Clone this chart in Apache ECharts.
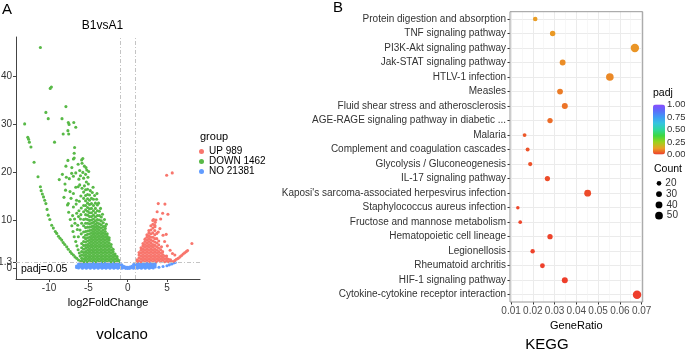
<!DOCTYPE html>
<html>
<head>
<meta charset="utf-8">
<script src="https://cdn.jsdelivr.net/npm/echarts@6/dist/echarts.min.js"></script>
<style>
  html, body { margin: 0; padding: 0; background: #fff; }
  #chart { width: 685px; height: 353px; }
</style>
</head>
<body>
<div id="chart"></div>
<script>
// ---- A: volcano (log2FoldChange, -log10 padj) ----
const volcanoXTicks = [-10, -5, 0, 5];
const volcanoYTicks = [0, 10, 20, 30, 40];
const cutTick = [1.3];
const foldCut = [-1, 1];
const padjCut = 1.3;

// scattered DOWN genes
const downScatter = [
  [-11.1,46.0],[-9.85,37.5],[-9.7,37.8],[-7.85,33.7],[-10.4,32.5],[-10.1,31.2],[-8.35,31.2],[-13.1,30.1],
  [-7.55,30.4],[-7.45,30.0],[-6.85,30.4],[-6.6,29.4],[-7.6,28.7],[-8.2,28.0],[-7.5,28.0],[-12.7,27.3],
  [-12.6,26.9],[-12.5,26.3],[-12.3,25.3],[-9.3,26.3],[-6.75,25.2],[-6.8,24.0],[-6.9,22.8],[-6.8,23.0],
  [-7.6,22.5],[-5.7,22.9],[-5.85,22.6],[-11.9,22.1],[-6.3,21.7],[-5.8,21.9],[-7.85,21.3],[-7.1,21.0],
  [-5.5,21.3],[-5.3,21.0],[-11.4,19.1],
  [-7.97,17.6],[-7.42,18.7],[-7.12,19.8],[-7.33,16.0],[-6.9,15.6],[-7.55,13.5],[-6.9,12.8],[-6.48,11.5],
  [-6.7,9.4],[-6.06,8.0],[-6.27,6.6],[-8.3,19.6],[-8.7,18.5],[-6.5,14.2],[-6.2,12.0],[-6.0,10.3],
  [-6.35,9.0],[-7.0,11.0],[-8.1,14.8],[-6.6,16.9],[-7.8,19.0],[-6.1,17.4],[-5.95,15.1],[-6.15,14.0],
  [-5.9,12.6],[-6.25,10.8],[-5.85,9.4],[-5.9,7.2],[-6.4,8.1],[-6.75,10.3],[-7.2,14.6],[-6.55,13.4],
  [-5.95,11.2],
  [-5.5,17.2],[-5.25,18.0],[-5.0,17.6],[-4.75,16.2],[-5.6,18.8],[-5.35,19.6],[-5.05,19.0],[-5.2,20.5],
  [-4.95,20.2],[-5.7,20.0],[-6.0,19.3],[-6.2,18.6],[-6.1,20.4],[-6.6,19.9],[-6.9,19.2],[-4.5,15.8],
  [-4.2,15.2],[-3.95,14.4],[-3.7,13.6],[-3.45,12.5],[-3.2,11.3],[-2.95,10.2],[-2.7,9.2],[-4.4,16.9],
  [-3.9,15.6],[-5.8,16.7],[-6.3,17.0]
];
// thin arcs of DOWN genes on the left
const downArcs = [
  [-11.1,17.0],[-11.0,16.2],[-10.85,15.5],[-10.7,14.9],[-10.55,14.2],[-10.4,13.5],[-10.25,12.3],
  [-10.1,11.1],[-9.9,10.2],[-9.66,9.0],[-9.45,8.4],[-9.2,7.7],[-9.02,7.3],[-8.8,6.7],[-8.6,6.3],
  [-8.39,5.9],[-8.2,5.4],[-8.0,5.0],[-7.75,4.5],[-7.55,4.0],[-7.3,3.5],[-7.12,3.1],[-6.9,2.8],
  [-6.7,2.4],[-6.48,2.1],[-6.25,1.75],[-5.97,1.4],
  [-7.9,16.3],[-7.65,13.2],[-7.3,10.2],[-6.95,7.7],[-6.6,5.6],[-6.3,3.9],[-6.05,2.6],[-5.85,1.6],
  [-7.5,11.7],[-7.1,8.9],[-6.8,6.6],[-6.45,4.7],[-6.15,3.2]
];
// dense DOWN mass, one row per column: [x, y, y, ...]
const downColumns = [
  [-5.85, 1.5, 2.1, 2.8, 3.5, 4.3, 5.2],
  [-5.6, 1.4, 2.0, 2.7, 3.3, 4.0, 4.8, 5.6, 6.5, 7.6, 8.9, 10.2, 11.8, 13.1, 14.6, 15.9],
  [-5.35, 1.7, 2.3, 2.9, 3.5, 4.2, 4.8, 5.5, 6.2, 6.9, 7.7, 8.5, 9.4, 10.3, 11.2, 12.2, 13.1, 14.1, 15.2, 16.4],
  [-5.1, 1.4, 2.0, 2.6, 3.2, 3.8, 4.4, 5.0, 5.7, 6.4, 7.1, 7.8, 8.6, 9.4, 10.2, 11.1, 11.9, 12.7, 13.6, 14.5, 15.4, 16.5],
  [-4.85, 1.7, 2.3, 2.9, 3.5, 4.1, 4.7, 5.3, 5.9, 6.5, 7.2, 7.9, 8.6, 9.3, 10.0, 10.8, 11.6, 12.4, 13.3, 14.2, 15.3],
  [-4.6, 1.4, 2.0, 2.6, 3.2, 3.8, 4.4, 5.0, 5.6, 6.2, 6.8, 7.4, 8.0, 8.7, 9.4, 10.1, 10.8, 11.6, 12.5, 13.5, 14.6],
  [-4.35, 1.7, 2.3, 2.9, 3.5, 4.1, 4.7, 5.3, 5.9, 6.5, 7.1, 7.7, 8.3, 8.9, 9.6, 10.3, 11.1, 12.0, 13.1, 14.4],
  [-4.1, 1.4, 2.0, 2.6, 3.2, 3.8, 4.4, 5.0, 5.6, 6.2, 6.8, 7.4, 8.0, 8.6, 9.2, 9.9, 10.7, 11.6, 12.5, 13.6],
  [-3.85, 1.7, 2.3, 2.9, 3.5, 4.1, 4.7, 5.3, 5.9, 6.5, 7.1, 7.7, 8.3, 8.9, 9.5, 10.2, 11.0, 12.0, 13.2],
  [-3.6, 1.4, 2.0, 2.6, 3.2, 3.8, 4.4, 5.0, 5.6, 6.2, 6.8, 7.4, 8.0, 8.6, 9.3, 10.1, 11.0, 11.9],
  [-3.35, 1.7, 2.3, 2.9, 3.5, 4.1, 4.7, 5.3, 5.9, 6.5, 7.1, 7.7, 8.4, 9.1, 9.9, 10.7],
  [-3.1, 1.4, 2.0, 2.6, 3.2, 3.8, 4.4, 5.0, 5.6, 6.2, 6.8, 7.4, 8.0, 8.7, 9.5],
  [-2.85, 1.7, 2.3, 2.9, 3.5, 4.1, 4.7, 5.3, 5.9, 6.5, 7.1, 7.7, 8.3, 8.8],
  [-2.6, 1.4, 2.0, 2.6, 3.2, 3.8, 4.4, 5.0, 5.6, 6.2, 6.7, 7.2],
  [-2.35, 1.7, 2.3, 2.9, 3.5, 4.1, 4.7, 5.3, 5.9, 6.4],
  [-2.1, 1.4, 2.0, 2.6, 3.2, 3.8, 4.4, 5.0],
  [-1.85, 1.7, 2.3, 2.9, 3.5, 4.0],
  [-1.6, 1.4, 2.0, 2.6, 3.0],
  [-1.35, 1.6, 2.1, 2.5],
  [-1.15, 1.4, 1.7]
];

const upScatter = [
  [3.3,10.2],[3.5,9.6],[3.89,13.5],[4.74,13.4],[4.45,11.5],[5.12,11.3],[3.6,10.1],[4.96,19.4],[5.67,19.9],
  [3.47,8.7],[3.89,7.6],[4.5,6.9],[4.9,7.1],[4.3,4.5],[5.4,3.8],[6.0,2.8],[4.1,8.3],[4.7,5.6],[5.05,4.7],
  [5.7,3.1],[8.17,5.2],[4.2,10.3],[3.75,11.8],
  [5.75,1.45],[6.0,1.65],[6.2,1.9],[6.43,2.1],[6.65,2.4],[6.85,2.7],[7.05,3.0],[7.25,3.25],[7.45,3.5],[7.62,3.75]
];
const upColumns = [
  [1.2, 1.4, 1.8],
  [1.45, 1.6, 2.2, 2.8, 3.3],
  [1.7, 1.4, 2.0, 2.6, 3.2, 3.8, 4.3],
  [1.95, 1.7, 2.3, 2.9, 3.5, 4.1, 4.7, 5.2],
  [2.2, 1.4, 2.0, 2.6, 3.2, 3.8, 4.4, 5.0, 5.6, 6.1],
  [2.45, 1.7, 2.3, 2.9, 3.5, 4.1, 4.7, 5.3, 5.9, 6.5, 7.0],
  [2.7, 1.4, 2.0, 2.6, 3.2, 3.8, 4.4, 5.0, 5.6, 6.2, 6.8, 7.4, 7.9],
  [2.95, 1.7, 2.3, 2.9, 3.5, 4.1, 4.7, 5.3, 5.9, 6.5, 7.2, 8.0, 8.9],
  [3.2, 1.4, 2.0, 2.6, 3.2, 3.8, 4.4, 5.0, 5.7, 6.5, 7.4, 8.4, 9.2, 10.0],
  [3.45, 1.7, 2.3, 2.9, 3.5, 4.1, 4.8, 5.5, 6.2, 7.0, 7.9, 9.0],
  [3.7, 1.4, 2.0, 2.6, 3.2, 3.8, 4.5, 5.3, 6.2, 7.3],
  [3.95, 1.7, 2.3, 2.9, 3.5, 4.2, 4.9, 5.7],
  [4.2, 1.4, 2.0, 2.6, 3.2, 3.9],
  [4.45, 1.7, 2.3, 2.9, 3.5],
  [4.7, 1.4, 2.0, 2.6],
  [4.95, 1.6, 2.1, 2.6],
  [5.2, 1.4, 1.9],
  [5.45, 1.45, 1.8]
];

const noScatter = [
  [3.98,0.25],[4.5,0.4],[5.0,0.55],[5.3,0.75],[5.6,0.95],[5.85,1.15],[6.05,1.25],[-6.5,0.2],[-6.5,0.5]
];
const noColumns = [
  [-6.25, 0.1, 0.5, 0.9], [-6.0, 0.3, 0.7, 1.1], [-5.75, 0.05, 0.45, 0.85, 1.2],
  [-5.5, 0.25, 0.65, 1.05], [-5.25, 0.05, 0.4, 0.8, 1.2], [-5.0, 0.25, 0.65, 1.05],
  [-4.75, 0.05, 0.45, 0.85, 1.2], [-4.5, 0.25, 0.6, 1.0], [-4.25, 0.05, 0.45, 0.85, 1.2],
  [-4.0, 0.25, 0.65, 1.05], [-3.75, 0.05, 0.4, 0.8, 1.2], [-3.5, 0.25, 0.65, 1.05],
  [-3.25, 0.05, 0.45, 0.85, 1.2], [-3.0, 0.2, 0.6, 1.0], [-2.75, 0.05, 0.45, 0.85, 1.2],
  [-2.5, 0.25, 0.65, 1.05], [-2.25, 0.05, 0.4, 0.8, 1.2], [-2.0, 0.25, 0.65, 1.05],
  [-1.75, 0.05, 0.45, 0.85, 1.2], [-1.5, 0.2, 0.6, 1.0], [-1.25, 0.05, 0.45, 0.85, 1.2],
  [-1.0, 0.2, 0.6, 1.0], [-0.75, 0.03, 0.35, 0.75], [-0.5, 0.15, 0.45],
  [-0.25, 0.02, 0.3], [0.0, 0.0, 0.25], [0.25, 0.02, 0.3], [0.5, 0.15, 0.45],
  [0.75, 0.03, 0.4, 0.8], [1.0, 0.2, 0.6, 1.0], [1.25, 0.05, 0.45, 0.85, 1.2],
  [1.5, 0.2, 0.6, 1.0], [1.75, 0.05, 0.45, 0.85, 1.2], [2.0, 0.25, 0.65, 1.05],
  [2.25, 0.05, 0.4, 0.8, 1.2], [2.5, 0.25, 0.65, 1.05], [2.75, 0.05, 0.45, 0.85, 1.2],
  [3.0, 0.2, 0.6, 1.0], [3.25, 0.1, 0.45, 0.85, 1.2], [3.5, 0.3, 0.7, 1.1]
];

// ---- B: KEGG enrichment ----
const pathways = [
  'Protein digestion and absorption', 'TNF signaling pathway', 'PI3K-Akt signaling pathway',
  'Jak-STAT signaling pathway', 'HTLV-1 infection', 'Measles', 'Fluid shear stress and atherosclerosis',
  'AGE-RAGE signaling pathway in diabetic ...', 'Malaria', 'Complement and coagulation cascades',
  'Glycolysis / Gluconeogenesis', 'IL-17 signaling pathway', "Kaposi's sarcoma-associated herpesvirus infection",
  'Staphylococcus aureus infection', 'Fructose and mannose metabolism', 'Hematopoietic cell lineage',
  'Legionellosis', 'Rheumatoid archritis', 'HIF-1 signaling pathway', 'Cytokine-cytokine receptor interaction'
];
const geneRatio = [0.0211, 0.0291, 0.0669, 0.0337, 0.0554, 0.0325, 0.0347, 0.0279, 0.0162, 0.0176,
                   0.0188, 0.0267, 0.0452, 0.0131, 0.0142, 0.0279, 0.0199, 0.0244, 0.0347, 0.0679];
const geneCount = [19, 26, 59, 30, 49, 29, 31, 25, 14, 15, 17, 24, 40, 12, 13, 25, 18, 21, 31, 60];
const padj = [0.12, 0.115, 0.11, 0.1, 0.095, 0.08, 0.07, 0.06, 0.035, 0.03,
              0.028, 0.022, 0.02, 0.015, 0.012, 0.01, 0.008, 0.006, 0.004, 0.002];
const ratioTicks = [0.01, 0.02, 0.03, 0.04, 0.05, 0.06, 0.07];
const ratioMinor = [0.015, 0.025, 0.035, 0.045, 0.055, 0.065];
const padjTicks = [0, 0.25, 0.5, 0.75, 1];
const countLegend = [20, 30, 40, 50];

function expandColumns(cols) {
  const out = [];
  cols.forEach(function (c) {
    for (let i = 1; i < c.length; i++) out.push([c[0], c[i]]);
  });
  return out;
}
function dotSize(count) {
  return Math.sqrt(Math.max(4, 1.24 * count - 2.7));
}

const FONT = 'Liberation Sans, Arial, Helvetica, sans-serif';
const chart = echarts.init(document.getElementById('chart'));

function txt(text, x, y, size, align) {
  return {
    type: 'text', x: x, y: y, silent: true,
    style: { text: text, fontSize: size, fontFamily: FONT, fill: '#000', align: align || 'left', verticalAlign: 'middle' }
  };
}

const keggBox = { left: 510, top: 11.7, width: 132.7, height: 290.3 };
const rowIndex = pathways.map(function (p, i) { return i; });

const option = {
  animation: false,
  textStyle: { fontFamily: FONT },
  grid: [
    { left: 16, top: 37, width: 184, height: 242, outerBoundsMode: 'none' },
    Object.assign({ show: true, borderColor: '#999', borderWidth: 1, outerBoundsMode: 'none', z: 3 }, keggBox),
    { left: 653, top: 104.5, width: 12, height: 50, outerBoundsMode: 'none' },
    { left: 655, top: 177.9, width: 8, height: 43.2, outerBoundsMode: 'none' },
    // same box as the KEGG panel, only for the minor vertical grid lines
    Object.assign({ outerBoundsMode: 'none' }, keggBox)
  ],
  xAxis: [
    {
      type: 'value', gridIndex: 0, min: -14.2, max: 9.2, position: 'bottom',
      name: 'log2FoldChange', nameLocation: 'middle', nameGap: 18,
      nameTextStyle: { fontSize: 11, color: '#000' },
      axisLine: { onZero: false, lineStyle: { color: '#444', width: 1 } },
      axisTick: { length: 3, lineStyle: { color: '#444' }, customValues: volcanoXTicks },
      axisLabel: { customValues: volcanoXTicks, fontSize: 10, color: '#333', margin: 4 },
      splitLine: { show: false }
    },
    {
      type: 'value', gridIndex: 1, min: 0.0095, max: 0.0705, position: 'bottom',
      name: 'GeneRatio', nameLocation: 'middle', nameGap: 16,
      nameTextStyle: { fontSize: 11, color: '#000' },
      axisLine: { show: false, onZero: false },
      axisTick: { length: 2.5, lineStyle: { color: '#333' }, customValues: ratioTicks },
      axisLabel: { customValues: ratioTicks, fontSize: 10, color: '#4d4d4d', margin: 4,
                   formatter: function (v) { return v.toFixed(2); } },
      splitLine: { show: true, lineStyle: { color: '#EBEBEB', width: 1 } }
    },
    {
      type: 'value', gridIndex: 4, min: 0.0095, max: 0.0705, position: 'bottom',
      axisLine: { show: false, onZero: false },
      axisTick: { show: false, customValues: ratioMinor },
      axisLabel: { show: false },
      splitLine: { show: true, lineStyle: { color: '#F2F2F2', width: 0.6 } }
    },
    { type: 'value', gridIndex: 2, min: 0, max: 1, show: false, axisLine: { onZero: false } },
    { type: 'value', gridIndex: 3, min: -1, max: 1, show: false, axisLine: { onZero: false } }
  ],
  yAxis: [
    {
      type: 'value', gridIndex: 0, min: -2.2, max: 48.2, position: 'left',
      axisLine: { show: true, onZero: false, lineStyle: { color: '#444', width: 1 } },
      axisTick: { show: true, length: 3, lineStyle: { color: '#444' }, customValues: volcanoYTicks },
      axisLabel: { customValues: volcanoYTicks, fontSize: 10, color: '#333', margin: 4, hideOverlap: false },
      splitLine: { show: false }
    },
    {
      type: 'value', gridIndex: 1, min: -0.5, max: 19.5, inverse: true, position: 'left',
      axisLine: { show: false, onZero: false },
      axisTick: { show: true, length: 2.5, lineStyle: { color: '#333' }, customValues: rowIndex },
      axisLabel: { customValues: rowIndex, fontSize: 10, color: '#333', margin: 4,
                   hideOverlap: false, formatter: function (v) { return pathways[v]; } },
      splitLine: { show: true, lineStyle: { color: '#EBEBEB', width: 1 } }
    },
    {
      type: 'value', gridIndex: 2, min: 0, max: 1, position: 'right',
      axisLine: { show: false, onZero: false },
      axisTick: { show: false, customValues: padjTicks },
      axisLabel: { customValues: padjTicks, fontSize: 9.5, color: '#333', margin: 2, hideOverlap: false,
                   formatter: function (v) { return v.toFixed(2); } },
      splitLine: { show: false }
    },
    { type: 'value', gridIndex: 3, min: -0.5, max: 3.5, inverse: true, show: false, axisLine: { onZero: false } },
    {
      // second left axis on the volcano grid carrying only the 1.3 cut-off label
      type: 'value', gridIndex: 0, min: -2.2, max: 48.2, position: 'left', offset: 0,
      axisLine: { show: false, onZero: false },
      axisTick: { show: true, length: 3, lineStyle: { color: '#444' }, customValues: cutTick },
      axisLabel: { customValues: cutTick, fontSize: 10, color: '#333', margin: 4, hideOverlap: false },
      splitLine: { show: false }
    },
    { type: 'value', gridIndex: 4, min: -0.5, max: 19.5, show: false, axisLine: { onZero: false } }
  ],
  legend: {
    data: ['UP 989', 'DOWN 1462', 'NO 21381'],
    orient: 'vertical', left: 199, top: 146.5, padding: 0,
    icon: 'circle', itemWidth: 5, itemHeight: 5, itemGap: 0,
    textStyle: { fontSize: 10, color: '#000', lineHeight: 10 },
    selectedMode: false
  },
  visualMap: {
    type: 'continuous', min: 0, max: 1, dimension: 2, seriesIndex: 3,
    left: 653, top: 104.5, itemWidth: 12, itemHeight: 50, padding: 0,
    calculable: false, hoverLink: false,
    inRange: { color: ['#EE3B2B', '#EAA125', '#9AD31C', '#3ED840', '#2ED8A0', '#35C4E0', '#3F9BF5', '#5C6CFA', '#8A4CFF'] }
  },
  series: [
    {
      name: 'NO 21381', type: 'scatter', xAxisIndex: 0, yAxisIndex: 0,
      symbolSize: 3.1, itemStyle: { color: '#619CFF', opacity: 1 },
      data: expandColumns(noColumns).concat(noScatter),
      markLine: {
        silent: true, symbol: ['none', 'none'], label: { show: false },
        lineStyle: { color: '#C4C4C4', width: 1, type: [4, 2, 1, 2] },
        data: [{ xAxis: foldCut[0] }, { xAxis: foldCut[1] }, { yAxis: padjCut }]
      }
    },
    {
      name: 'DOWN 1462', type: 'scatter', xAxisIndex: 0, yAxisIndex: 0,
      symbolSize: 3.1, itemStyle: { color: '#58B947', opacity: 1 },
      data: expandColumns(downColumns).concat(downArcs, downScatter)
    },
    {
      name: 'UP 989', type: 'scatter', xAxisIndex: 0, yAxisIndex: 0,
      symbolSize: 3.1, itemStyle: { color: '#F8766D', opacity: 1 },
      data: expandColumns(upColumns).concat(upScatter)
    },
    {
      name: 'KEGG', type: 'scatter', xAxisIndex: 1, yAxisIndex: 1,
      itemStyle: { opacity: 1 },
      symbolSize: function (v) { return dotSize(v[3]); },
      data: geneRatio.map(function (r, i) { return [r, i, padj[i], geneCount[i]]; })
    },
    {
      name: 'Count', type: 'scatter', xAxisIndex: 4, yAxisIndex: 3,
      itemStyle: { color: '#000', opacity: 1 },
      symbolSize: function (v) { return dotSize(v[2]); },
      label: { show: true, position: 'right', distance: 4, fontSize: 10, color: '#333',
               formatter: function (p) { return String(p.data[2]); } },
      data: countLegend.map(function (c, i) { return [0, i, c]; })
    }
  ],
  graphic: [
    txt('A', 2, 10, 15),
    txt('B', 333, 8, 15),
    txt('B1vsA1', 102.5, 26, 12, 'center'),
    txt('group', 200, 137, 11),
    txt('padj=0.05', 21, 269.5, 10.5),
    txt('volcano', 122, 335, 15, 'center'),
    txt('KEGG', 547, 345, 15, 'center'),
    txt('padj', 653, 93, 10.5),
    txt('Count', 654, 169, 10.5)
  ]
};
chart.setOption(option);
</script>
</body>
</html>
